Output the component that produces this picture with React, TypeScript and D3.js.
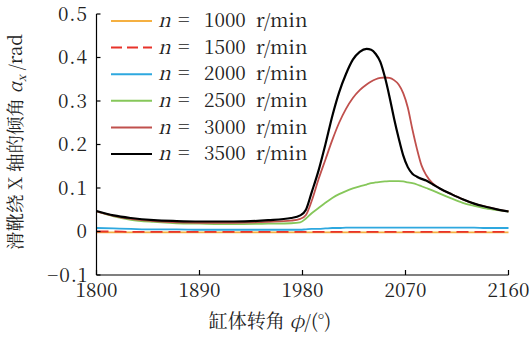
import React from 'react';
import * as d3 from 'd3';

const angles = [1800, 1815, 1830, 1850, 1870, 1890, 1920, 1950, 1970, 1978, 1983, 1988, 1994, 2000, 2006, 2012, 2018, 2024, 2030, 2036, 2040, 2044, 2048, 2052, 2056, 2060, 2064, 2068, 2072, 2076, 2080, 2084, 2088, 2094, 2100, 2110, 2120, 2130, 2140, 2150, 2160];

const n1000 = [-0.002, -0.002, -0.002, -0.002, -0.002, -0.002, -0.002, -0.002, -0.002, -0.002, -0.002, -0.002, -0.002, -0.002, -0.002, -0.002, -0.002, -0.002, -0.002, -0.002, -0.002, -0.002, -0.002, -0.002, -0.002, -0.002, -0.002, -0.002, -0.002, -0.002, -0.002, -0.002, -0.002, -0.002, -0.002, -0.002, -0.002, -0.002, -0.002, -0.002, -0.002];
const n1500 = [0.0, 0.0, -0.001, -0.001, -0.001, -0.001, -0.001, -0.001, -0.001, -0.001, -0.001, -0.001, -0.001, -0.001, -0.001, -0.001, -0.001, -0.001, -0.001, -0.001, -0.001, -0.001, -0.001, -0.001, -0.001, -0.001, -0.001, -0.001, -0.001, -0.001, -0.001, -0.001, -0.001, -0.001, -0.001, -0.001, -0.001, -0.001, -0.001, -0.001, -0.001];
const n2000 = [0.008, 0.007, 0.006, 0.005, 0.005, 0.004, 0.004, 0.004, 0.004, 0.004, 0.005, 0.006, 0.006, 0.007, 0.008, 0.008, 0.009, 0.009, 0.009, 0.009, 0.009, 0.009, 0.009, 0.009, 0.009, 0.009, 0.009, 0.009, 0.009, 0.009, 0.009, 0.009, 0.009, 0.009, 0.009, 0.009, 0.009, 0.009, 0.008, 0.008, 0.008];
const n2500 = [0.046, 0.035, 0.027, 0.022, 0.019, 0.018, 0.017, 0.018, 0.019, 0.021, 0.03, 0.042, 0.054, 0.066, 0.077, 0.086, 0.093, 0.099, 0.104, 0.108, 0.111, 0.113, 0.114, 0.115, 0.116, 0.116, 0.116, 0.115, 0.113, 0.111, 0.108, 0.104, 0.1, 0.094, 0.087, 0.076, 0.066, 0.059, 0.053, 0.049, 0.046];
const n3000 = [0.046, 0.036, 0.029, 0.024, 0.021, 0.02, 0.02, 0.022, 0.025, 0.029, 0.038, 0.07, 0.12, 0.165, 0.21, 0.25, 0.282, 0.307, 0.325, 0.338, 0.345, 0.35, 0.353, 0.354, 0.353, 0.348, 0.338, 0.318, 0.285, 0.235, 0.19, 0.152, 0.13, 0.11, 0.099, 0.086, 0.074, 0.064, 0.057, 0.051, 0.046];
const n3500 = [0.047, 0.037, 0.031, 0.026, 0.024, 0.023, 0.023, 0.026, 0.031, 0.037, 0.05, 0.09, 0.14, 0.2, 0.265, 0.32, 0.362, 0.395, 0.413, 0.42, 0.418, 0.408, 0.39, 0.355, 0.31, 0.26, 0.215, 0.175, 0.148, 0.133, 0.126, 0.121, 0.117, 0.108, 0.099, 0.086, 0.074, 0.064, 0.057, 0.051, 0.046];

const speeds = ['1000', '1500', '2000', '2500', '3000', '3500'];
const seriesValues = [n1000, n1500, n2000, n2500, n3000, n3500];
const colors = ['#F5B041', '#E8332A', '#2EA8DF', '#86C75A', '#C0504D', '#000000'];
const dashes = [null, '12 6', null, null, null, null];

const xTicks = [1800, 1890, 1980, 2070, 2160];
const yTicks = [-0.1, 0, 0.1, 0.2, 0.3, 0.4, 0.5];

const W = 529;
const H = 342;
const SERIF = 'Noto Serif CJK SC';

export default function App() {
  const x = d3.scaleLinear().domain([1800, 2160]).range([96.5, 508.5]);
  const y = d3.scaleLinear().domain([-0.1, 0.5]).range([275, 14]);
  const line = d3
    .line<number>()
    .x((_, i) => x(angles[i]))
    .y((d) => y(d))
    .curve(d3.curveMonotoneX);

  const fmtY = (v: number) => (v === 0 ? '0' : v < 0 ? '\u2212' + Math.abs(v).toFixed(1) : v.toFixed(1));
  const legendY = (i: number) => 21 + i * 26.6;

  return (
    <svg width={W} height={H} style={{ position: 'absolute', left: 0, top: 0, background: '#fff' }}>
      {/* series */}
      {seriesValues.map((vals, i) => (
        <path
          key={speeds[i]}
          d={line(vals) || ''}
          fill="none"
          stroke={colors[i]}
          strokeWidth={i === 5 ? 2.2 : 1.8}
          strokeDasharray={dashes[i] || undefined}
        />
      ))}

      {/* axes */}
      <line x1={x(1800)} x2={x(1800)} y1={y(0.5)} y2={y(-0.1)} stroke="#000" strokeWidth={1.2} />
      <line x1={x(1800)} x2={x(2160)} y1={y(-0.1)} y2={y(-0.1)} stroke="#000" strokeWidth={1.2} />
      {yTicks.map((t) => (
        <g key={'y' + t}>
          <line x1={x(1800)} x2={x(1800) + 4} y1={y(t)} y2={y(t)} stroke="#000" strokeWidth={1.2} />
          <text x={88} y={y(t)} dy="0.35em" textAnchor="end" fontSize={19} fontFamily={SERIF} fill="#222" letterSpacing={1}>
            {fmtY(t)}
          </text>
        </g>
      ))}
      {xTicks.map((t) => (
        <g key={'x' + t}>
          <line x1={x(t)} x2={x(t)} y1={y(-0.1)} y2={y(-0.1) - 5} stroke="#000" strokeWidth={1.2} />
          <text x={x(t)} y={297} textAnchor="middle" fontSize={19} fontFamily={SERIF} fill="#222">
            {t}
          </text>
        </g>
      ))}

      {/* legend */}
      {speeds.map((s, i) => (
        <g key={'lg' + s}>
          <line
            x1={111}
            x2={152}
            y1={legendY(i)}
            y2={legendY(i)}
            stroke={colors[i]}
            strokeWidth={2}
            strokeDasharray={i === 1 ? '11 5' : undefined}
          />
          <text x={158} y={legendY(i)} dy="0.33em" fontSize={19} fontFamily={SERIF} fill="#222">
            <tspan fontStyle="italic">n</tspan>
            <tspan x={178} fontSize={20}>=</tspan>
            <tspan x={204}>{s}</tspan>
            <tspan x={256}>r/min</tspan>
          </text>
        </g>
      ))}

      {/* x label */}
      <text x={270} y={328} textAnchor="middle" fontSize={19} fontFamily={SERIF} fill="#222">
        缸体转角 <tspan fontStyle="italic">φ</tspan>/(°)
      </text>

      {/* y label */}
      <text transform={`translate(22,142) rotate(-90)`} textAnchor="middle" fontSize={18.5} fontFamily={SERIF} fill="#222">
        滑靴绕 X 轴的倾角 <tspan fontStyle="italic">α</tspan>
        <tspan fontStyle="italic" fontSize={12} dy={4}>x</tspan>
        <tspan dy={-4}> /rad</tspan>
      </text>
    </svg>
  );
}
